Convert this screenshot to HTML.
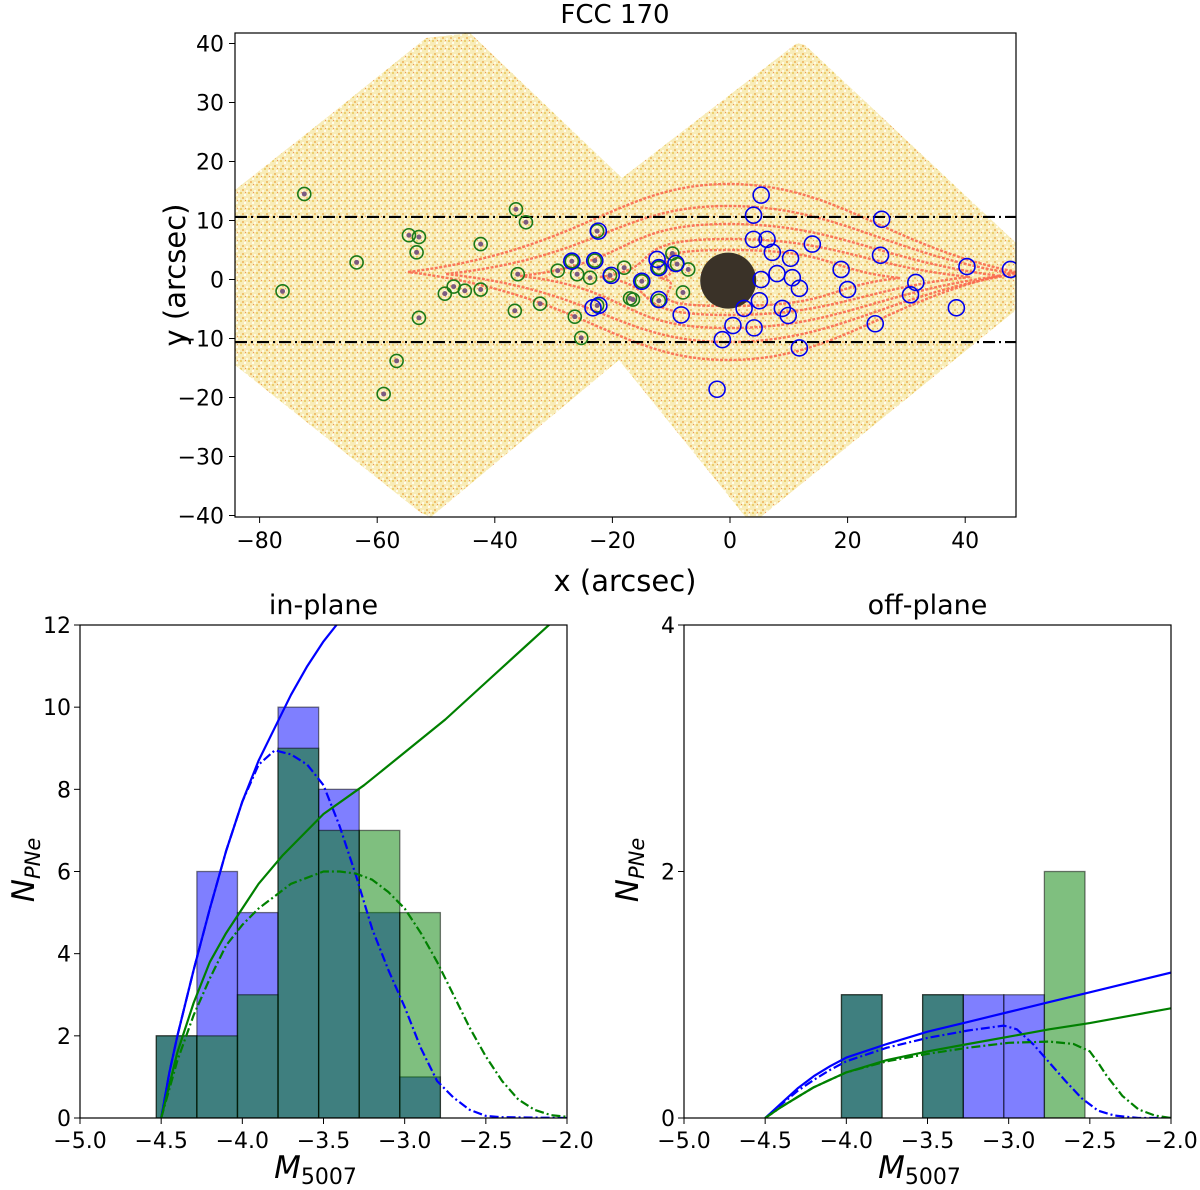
<!DOCTYPE html>
<html><head><meta charset="utf-8">
<style>
html,body{margin:0;padding:0;background:#fff;}
svg{display:block;font-family:"DejaVu Sans","Liberation Sans",sans-serif;}
</style></head>
<body>
<svg id="fig" width="1200" height="1190" viewBox="0 0 1200 1190" xmlns="http://www.w3.org/2000/svg">
<defs>
<pattern id="speck" width="8" height="8" patternUnits="userSpaceOnUse">
<rect width="8" height="8" fill="#f8ecb8"/>
<rect x="0" y="0" width="2" height="2" fill="#ecd070"/>
<rect x="4" y="2" width="2" height="2" fill="#fffcee"/>
<rect x="2" y="5" width="2" height="2" fill="#f0c070"/>
<rect x="6" y="6" width="2" height="2" fill="#fffae0"/>
<rect x="5" y="0" width="1" height="1" fill="#f09060"/>
</pattern>
<clipPath id="clipTop"><rect x="235" y="33" width="781" height="484"/></clipPath>
<clipPath id="clipL"><rect x="80" y="625" width="487" height="493"/></clipPath>
<clipPath id="clipR"><rect x="684" y="625" width="487" height="493"/></clipPath>
</defs>
</svg>
<script>
// ---------- top panel data ----------
const greenX = [-72.4,-36.4,-34.7,-54.6,-52.9,-53.3,-42.4,-63.5,-76.1,-36.1,-29.3,-26.0,-23.8,-18.0,-47.0,-48.5,-45.1,-42.4,-32.3,-36.6,-26.4,-52.9,-25.3,-56.7,-58.9,-17.0,-22.6,-26.9,-23.0,-22.6,-20.4,-9.8,-12.1,-9.0,-7.1,-15.0,-8.0,-16.5,-12.1];
const greenY = [14.5,11.9,9.7,7.5,7.2,4.6,6.0,2.9,-2.0,0.9,1.5,0.9,0.3,2.0,-1.2,-2.4,-1.9,-1.7,-4.1,-5.3,-6.3,-6.5,-9.9,-13.8,-19.4,-3.2,8.2,3.1,3.2,-4.4,0.7,4.4,2.0,2.6,1.7,-0.3,-2.2,-3.4,-3.6];
const blueX = [-22.4,-26.9,-23.0,-20.2,-23.3,-22.3,5.3,4.0,25.8,4.0,6.3,7.2,14.0,10.3,25.6,-12.4,-12.1,-9.2,18.9,40.3,47.7,8.0,10.6,5.3,-15.0,31.6,11.8,20.0,30.7,5.0,-12.1,38.5,2.4,8.9,9.9,-8.3,24.7,0.5,4.1,-1.3,11.8,-2.2];
const blueY = [8.2,3.1,3.2,0.7,-4.8,-4.4,14.3,10.9,10.2,6.8,6.8,4.6,6.0,3.6,4.1,3.4,2.0,2.7,1.7,2.2,1.7,1.0,0.3,0.0,-0.3,-0.5,-1.5,-1.7,-2.6,-3.6,-3.4,-4.8,-4.9,-4.9,-6.1,-6.0,-7.5,-7.8,-8.2,-10.2,-11.6,-18.6];
const topXTicks = [-80,-60,-40,-20,0,20,40];
const topYTicks = [40,30,20,10,0,-10,-20,-30,-40];
const cutY = [10.6,-10.6];

// ---------- histogram data ----------
const binEdges = [-4.53,-4.28,-4.03,-3.78,-3.53,-3.28,-3.03,-2.78,-2.53];
const inBlue  = [2,6,5,10,8,5,1,0];
const inGreen = [2,2,3,9,7,7,5,0];
const offBlue = [0,0,1,0,1,1,1,0];
const offGreen= [0,0,1,0,1,0,0,2];
const histXTicks = [-5.0,-4.5,-4.0,-3.5,-3.0,-2.5,-2.0];
const inYTicks = [0,2,4,6,8,10,12];
const offYTicks = [0,2,4];
// in-plane curves
const inBSolX = [-4.5,-4.45,-4.4,-4.3,-4.2,-4.1,-4.0,-3.9,-3.8,-3.7,-3.6,-3.5,-3.42];
const inBSolY = [0,1.1,2.0,3.6,5.1,6.5,7.7,8.7,9.5,10.3,11.0,11.6,12.0];
const inBDashX = [-4.5,-4.45,-4.4,-4.3,-4.2,-4.1,-4.0,-3.9,-3.8,-3.7,-3.6,-3.5,-3.4,-3.3,-3.2,-3.1,-3.0,-2.9,-2.8,-2.7,-2.6,-2.5,-2.4,-2.0];
const inBDashY = [0,1.1,2.0,3.6,5.1,6.5,7.7,8.6,8.95,8.85,8.6,8.1,7.1,5.9,4.6,3.6,2.7,1.7,0.9,0.5,0.2,0.05,0.02,0];
const inGSolX = [-4.5,-4.4,-4.3,-4.2,-4.1,-4.0,-3.9,-3.75,-3.5,-3.25,-3.0,-2.75,-2.5,-2.25,-2.0];
const inGSolY = [0,1.6,2.8,3.8,4.5,5.1,5.7,6.4,7.4,8.1,8.9,9.7,10.6,11.5,12.4];
const inGDashX = [-4.5,-4.4,-4.3,-4.2,-4.1,-4.0,-3.9,-3.7,-3.5,-3.4,-3.3,-3.2,-3.1,-3.0,-2.9,-2.8,-2.7,-2.6,-2.5,-2.4,-2.3,-2.2,-2.1,-2.0];
const inGDashY = [0,1.4,2.5,3.4,4.2,4.7,5.1,5.7,6.0,6.0,5.95,5.8,5.5,5.1,4.5,3.8,3.0,2.2,1.5,0.9,0.45,0.2,0.07,0.03];
// off-plane curves
const offBSolX = [-4.5,-4.4,-4.3,-4.2,-4.1,-4.0,-3.75,-3.5,-3.25,-3.0,-2.75,-2.5,-2.25,-2.0];
const offBSolY = [0,0.12,0.24,0.34,0.42,0.49,0.6,0.7,0.78,0.86,0.94,1.02,1.1,1.18];
const offBDashX = [-4.5,-4.4,-4.3,-4.2,-4.1,-4.0,-3.75,-3.5,-3.25,-3.03,-2.95,-2.85,-2.75,-2.65,-2.55,-2.45,-2.35,-2.2,-2.0];
const offBDashY = [0,0.11,0.22,0.31,0.39,0.46,0.57,0.65,0.71,0.75,0.72,0.6,0.45,0.3,0.16,0.06,0.02,0.0,0.0];
const offGSolX = [-4.5,-4.4,-4.3,-4.2,-4.1,-4.0,-3.75,-3.5,-3.25,-3.0,-2.75,-2.5,-2.25,-2.0];
const offGSolY = [0,0.09,0.17,0.25,0.31,0.37,0.47,0.54,0.6,0.66,0.72,0.77,0.83,0.89];
const offGDashX = [-4.5,-4.4,-4.3,-4.2,-4.1,-4.0,-3.75,-3.5,-3.25,-3.0,-2.75,-2.6,-2.5,-2.45,-2.4,-2.3,-2.2,-2.1,-2.0];
const offGDashY = [0,0.09,0.17,0.25,0.31,0.37,0.46,0.52,0.57,0.61,0.62,0.6,0.54,0.45,0.35,0.18,0.07,0.02,0.0];

const NS="http://www.w3.org/2000/svg";
const svg=document.getElementById('fig');
function mk(tag,attrs,parent){const e=document.createElementNS(NS,tag);for(const k in attrs)e.setAttribute(k,attrs[k]);(parent||svg).appendChild(e);return e;}
function txt(s,x,y,size,anchor,parent){const t=mk('text',{x:x,y:y,'font-size':size,'text-anchor':anchor||'middle',fill:'#000'},parent);t.textContent=s;return t;}

// ================= TOP PANEL =================
const TX=x=>730+5.88*x;
const TY=y=>279.5-5.9*y;
const gTop=mk('g',{'clip-path':'url(#clipTop)'});


const field=mk('polygon',{points:"235,190 330,115 426,38 470,33 622,178 797,43 805,45 1016,243 1016,310 757,520 748,520 619,360 431,517 421,513 235,365",fill:'url(#speck)'},gTop);


// contours
const contours=[[408,1016,88,272],[446,1016,68,274],[520,1000,52,276],[600,970,38,277],[660,900,28,278]];
contours.forEach((c,i)=>{const [L,R,H,cy]=c;const cx=728;
 const d=`M${L},${cy} C${L+(cx-L)*0.55},${cy-H*0.25} ${cx-110},${cy-H} ${cx},${cy-H} C${cx+110},${cy-H} ${R-(R-cx)*0.45},${cy-H*0.3} ${R},${cy} C${R-(R-cx)*0.45},${cy+H*0.3} ${cx+110},${cy+H} ${cx},${cy+H} C${cx-110},${cy+H} ${L+(cx-L)*0.55},${cy+H*0.25} ${L},${cy} Z`;
 const p=mk('path',{d:d,fill:'none',stroke:'#fa6a50','stroke-width':2.4,'stroke-dasharray':'3 1.5',opacity:0.9},gTop);
 
 
});
const disk=mk('circle',{cx:TX(-0.3),cy:TY(-0.2),r:28,fill:'#3a3228'},gTop);


cutY.forEach(v=>{const l=mk('line',{x1:235,x2:1016,y1:TY(v),y2:TY(v),stroke:'#000','stroke-width':2.2,'stroke-dasharray':'12 4 2 4'},gTop);
 
 });
greenX.forEach((x,i)=>{mk('circle',{cx:TX(x),cy:TY(greenY[i]),r:2.5,fill:'#7a5a80'},gTop);
 const c=mk('circle',{cx:TX(x),cy:TY(greenY[i]),r:6.5,fill:'none',stroke:'#1a7a1a','stroke-width':1.6},gTop);
 
 });
blueX.forEach((x,i)=>{const c=mk('circle',{cx:TX(x),cy:TY(blueY[i]),r:8,fill:'none',stroke:'#0000ee','stroke-width':1.6},gTop);
 
 });
const fr=mk('rect',{x:235,y:33,width:781,height:484,fill:'none',stroke:'#000','stroke-width':1.2});


topXTicks.forEach(v=>{const x=TX(v);mk('line',{x1:x,x2:x,y1:517,y2:523,stroke:'#000'});
 const t=txt(v<0?'\u2212'+(-v):String(v),x,548,22);
 
 });
topYTicks.forEach(v=>{const y=TY(v);mk('line',{x1:229,x2:235,y1:y,y2:y,stroke:'#000'});
 const t=txt(v<0?'\u2212'+(-v):String(v),224,y+8,22,'end');
 
 });
let t=txt('FCC 170',615,23,26);


t=txt('x (arcsec)',625,591,29);


t=txt('y (arcsec)',0,0,29);t.setAttribute('transform','translate(185,275) rotate(-90)');



// ================= HISTOGRAMS =================
function panel(x0,title,yMax,yTicks,blue,green,curves,clip,name){
 const W=487,top=625,bot=1118;
 const X=v=>x0+(v+5)/3*W;
 const Y=v=>bot-v/yMax*(bot-top);
 const g=mk('g',{});
 
 
 const gc=mk('g',{'clip-path':'url('+clip+')'},g);
 blue.forEach((n,i)=>{if(!n)return;const b=mk('rect',{x:X(binEdges[i]),y:Y(n),width:X(binEdges[i+1])-X(binEdges[i]),height:Y(0)-Y(n),fill:'rgba(0,0,255,0.5)',stroke:'rgba(0,0,0,0.5)','stroke-width':1.3},gc);
  
  });
 green.forEach((n,i)=>{if(!n)return;const b=mk('rect',{x:X(binEdges[i]),y:Y(n),width:X(binEdges[i+1])-X(binEdges[i]),height:Y(0)-Y(n),fill:'rgba(0,128,0,0.5)',stroke:'rgba(0,0,0,0.5)','stroke-width':1.3},gc);
  
  });
 curves.forEach(c=>{const [xs,ys,col,dash,nm]=c;
  const d=xs.map((x,i)=>(i?'L':'M')+X(x).toFixed(1)+','+Y(ys[i]).toFixed(1)).join(' ');
  const p=mk('path',{d:d,fill:'none',stroke:col,'stroke-width':2.2,'stroke-dasharray':dash,'stroke-linejoin':'round'},gc);
  
  });
 const f=mk('rect',{x:x0,y:top,width:W,height:bot-top,fill:'none',stroke:'#000','stroke-width':1.2},g);
 
 
 histXTicks.forEach(v=>{const x=X(v);mk('line',{x1:x,x2:x,y1:bot,y2:bot+6,stroke:'#000'},g);
  const tt=txt('\u2212'+(-v).toFixed(1),x,bot+30,22,'middle',g);
  
  });
 yTicks.forEach(v=>{const y=Y(v);mk('line',{x1:x0-6,x2:x0,y1:y,y2:y,stroke:'#000'},g);
  const tt=txt(String(v),x0-9,y+8,22,'end',g);
  
  });
 let tt=txt(title,x0+W/2,614,27,'middle',g);
 
 
 tt=mk('text',{x:x0+W/2-8,y:1178,'font-size':31,'text-anchor':'middle','font-style':'italic'},g);
 tt.innerHTML='M<tspan font-size="22" font-style="normal" dy="6">5007</tspan>';
 
 
 tt=mk('text',{'font-size':31,'text-anchor':'middle','font-style':'italic',transform:`translate(${x0-46},870) rotate(-90)`},g);
 tt.innerHTML='N<tspan font-size="21" dy="6">PNe</tspan>';
 
 
}
panel(80,'in-plane',12,inYTicks,inBlue,inGreen,[
 [inBSolX,inBSolY,'#0000ff','none','blue-completeness-curve'],
 [inBDashX,inBDashY,'#0000ff','9 3 2 3','blue-pnlf-fit'],
 [inGSolX,inGSolY,'#008000','none','green-completeness-curve'],
 [inGDashX,inGDashY,'#008000','9 3 2 3','green-pnlf-fit']],'#clipL','in-plane-histogram');
panel(684,'off-plane',4,offYTicks,offBlue,offGreen,[
 [offBSolX,offBSolY,'#0000ff','none','blue-completeness-curve'],
 [offBDashX,offBDashY,'#0000ff','9 3 2 3','blue-pnlf-fit'],
 [offGSolX,offGSolY,'#008000','none','green-completeness-curve'],
 [offGDashX,offGDashY,'#008000','9 3 2 3','green-pnlf-fit']],'#clipR','off-plane-histogram');
</script>
</body></html>
